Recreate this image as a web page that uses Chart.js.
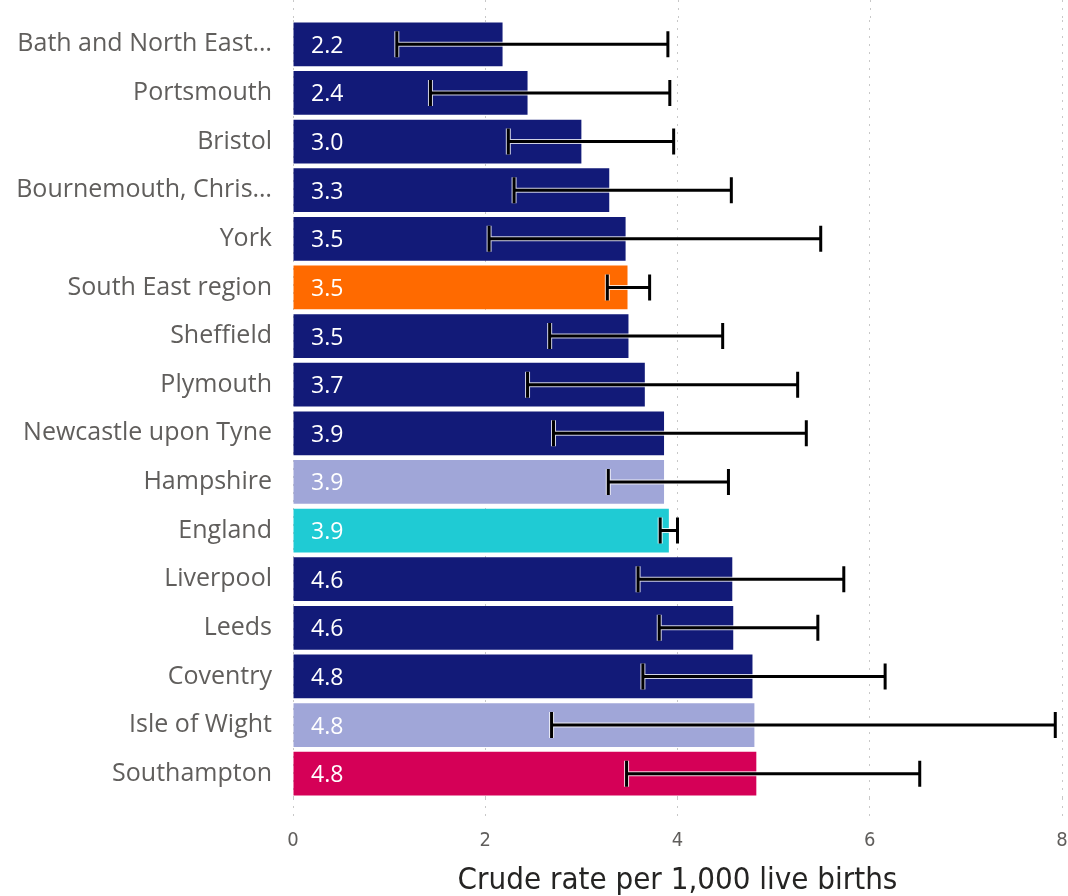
<!DOCTYPE html>
<html>
<head>
<meta charset="utf-8">
<script src="https://cdn.jsdelivr.net/npm/chart.js"></script>
<style>
  html, body {
    margin: 0;
    padding: 0;
    background: #ffffff;
  }
  #wrap {
    width: 1068px;
    height: 896px;
  }
</style>
</head>
<body>
<div id="wrap">
  <canvas id="chart" width="1068" height="896"></canvas>
</div>

<script>
  // Areas, top to bottom
  const areas = [
    'Bath and North East…', 'Portsmouth', 'Bristol', 'Bournemouth, Chris…', 'York',
    'South East region', 'Sheffield', 'Plymouth', 'Newcastle upon Tyne', 'Hampshire',
    'England', 'Liverpool', 'Leeds', 'Coventry', 'Isle of Wight', 'Southampton'
  ];
  // crude rate per 1,000 live births
  const rates = [2.18, 2.44, 3.0, 3.29, 3.46, 3.48, 3.49, 3.66, 3.86, 3.86, 3.91, 4.57, 4.58, 4.78, 4.80, 4.82];
  // confidence interval ends
  const lowerCI = [1.08, 1.43, 2.24, 2.30, 2.04, 3.27, 2.67, 2.44, 2.71, 3.28, 3.82, 3.59, 3.81, 3.64, 2.69, 3.47];
  const upperCI = [3.90, 3.92, 3.96, 4.56, 5.49, 3.71, 4.47, 5.25, 5.34, 4.53, 4.00, 5.73, 5.46, 6.16, 7.93, 6.52];
  const xTicks = [0, 2, 4, 6, 8];

  const navy = '#121a78';
  const barColors = areas.map(a => {
    if (a === 'South East region') return '#ff6a00';
    if (a === 'England') return '#1fcbd4';
    if (a === 'Hampshire' || a === 'Isle of Wight') return '#a0a6d8';
    if (a === 'Southampton') return '#d50057';
    return navy;
  });

  // value labels inside the bars + error bars
  const extras = {
    id: 'extras',
    beforeDatasetsDraw(chart) {
      // gridlines carry on above the plot area
      const ctx = chart.ctx;
      const xs = chart.scales.x;
      ctx.save();
      ctx.strokeStyle = '#c8c8c8';
      ctx.lineWidth = 1;
      ctx.setLineDash([2, 6]);
      xTicks.forEach(v => {
        const x = Math.round(xs.getPixelForValue(v)) + 0.5;
        ctx.beginPath();
        ctx.moveTo(x, 0);
        ctx.lineTo(x, chart.chartArea.top);
        ctx.stroke();
      });
      ctx.restore();
    },
    afterDatasetsDraw(chart) {
      const ctx = chart.ctx;
      const xs = chart.scales.x;
      const ys = chart.scales.y;
      const meta = chart.getDatasetMeta(0);

      ctx.save();
      ctx.font = '23px "Segoe UI", "Open Sans", sans-serif';
      ctx.fillStyle = '#ffffff';
      ctx.textAlign = 'left';
      ctx.textBaseline = 'middle';
      meta.data.forEach((bar, i) => {
        ctx.fillText(rates[i].toFixed(1), xs.getPixelForValue(0) + 18, bar.y + 2);
      });

      meta.data.forEach((bar, i) => {
        const y = ys.getPixelForValue(i);
        const x1 = xs.getPixelForValue(lowerCI[i]);
        const x2 = xs.getPixelForValue(upperCI[i]);
        const h = 13;
        [['rgba(255,255,255,0.8)', 5], ['#000000', 3]].forEach(([col, w]) => {
          ctx.strokeStyle = col;
          ctx.lineWidth = w;
          ctx.beginPath();
          ctx.moveTo(x1, y);
          ctx.lineTo(x2, y);
          ctx.moveTo(x1, y - h);
          ctx.lineTo(x1, y + h);
          ctx.moveTo(x2, y - h);
          ctx.lineTo(x2, y + h);
          ctx.stroke();
        });
      });
      ctx.restore();
    }
  };

  new Chart(document.getElementById('chart').getContext('2d'), {
    type: 'bar',
    data: {
      labels: areas,
      datasets: [{
        data: rates,
        backgroundColor: barColors,
        borderWidth: 0,
        barPercentage: 0.9,
        categoryPercentage: 1.0
      }]
    },
    options: {
      indexAxis: 'y',
      responsive: false,
      animation: false,
      layout: {
        padding: { top: 20, right: 6, bottom: 0, left: 0 }
      },
      plugins: {
        legend: { display: false },
        tooltip: { enabled: false }
      },
      scales: {
        x: {
          min: 0,
          max: 8,
          afterBuildTicks(scale) {
            scale.ticks = xTicks.map(v => ({ value: v }));
          },
          afterFit(scale) {
            scale.height = 98;
            scale.paddingLeft = 0;
            scale.paddingRight = 0;
          },
          grid: {
            color: '#c8c8c8',
            lineWidth: 1,
            drawTicks: true,
            tickLength: 18,
            tickColor: '#c8c8c8',
            tickBorderDash: [2, 6]
          },
          border: { display: false, dash: [2, 6] },
          ticks: {
            color: '#605e5c',
            padding: 13,
            font: { family: '"DejaVu Sans Condensed", "Liberation Sans Narrow", sans-serif', size: 20 }
          },
          title: {
            display: true,
            text: 'Crude rate per 1,000 live births',
            color: '#252423',
            padding: { top: 2, bottom: -4 },
            font: { family: '"DejaVu Sans Condensed", "Liberation Sans Narrow", sans-serif', size: 31 }
          }
        },
        y: {
          afterFit(scale) {
            scale.width = 293;
            scale.paddingTop = 0;
            scale.paddingBottom = 0;
          },
          grid: { display: false, drawTicks: false },
          border: { display: false },
          ticks: {
            color: '#605e5c',
            padding: 21,
            autoSkip: false,
            font: { family: '"Segoe UI", "Open Sans", sans-serif', size: 25 }
          }
        }
      }
    },
    plugins: [extras]
  });
</script>
</body>
</html>
